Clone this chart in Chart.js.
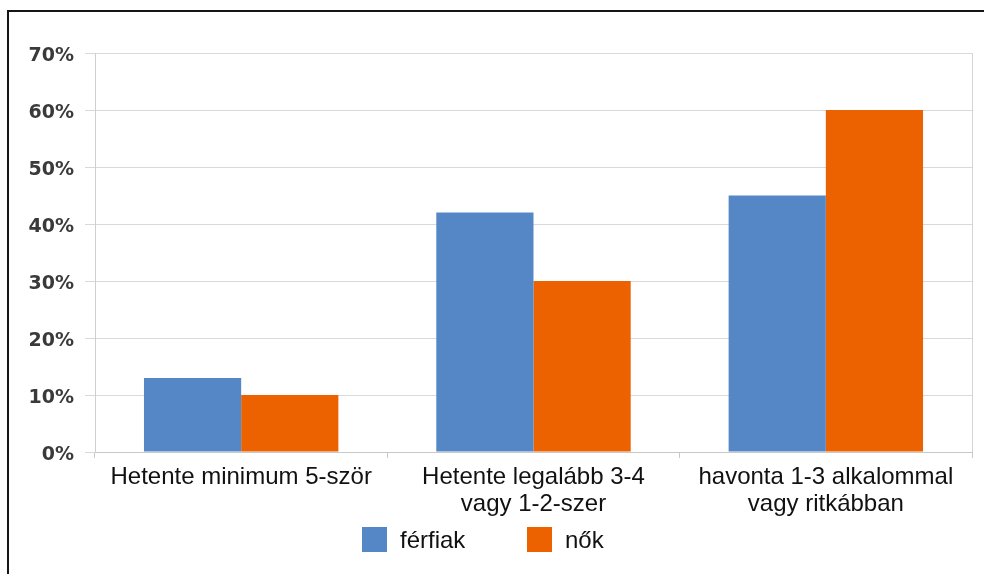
<!DOCTYPE html>
<html><head><meta charset="utf-8">
<script src="https://cdn.jsdelivr.net/npm/chart.js@4"></script>
<style>
html,body{margin:0;padding:0;background:#fff;overflow:hidden}
#wrap{position:relative;width:984px;height:574px}
#frame{position:absolute;left:7px;top:10px;right:0;bottom:0;border-left:2px solid #151515;border-top:2px solid #151515;pointer-events:none}
canvas{position:absolute;left:0;top:0}
.lg{position:absolute;top:527px;height:25px;display:flex;align-items:center;font-family:'Liberation Sans',Arial,sans-serif;font-size:24px;color:#111;white-space:nowrap}
.lg i{display:block;width:25px;height:25px;margin-right:13px}
</style></head><body>
<div id="wrap"><canvas id="c" width="984" height="574"></canvas><div id="frame"></div>
<div id="legend"></div></div>
<script>
const categories = [["Hetente minimum 5-ször"], ["Hetente legalább 3-4", "vagy 1-2-szer"], ["havonta 1-3 alkalommal", "vagy ritkábban"]];
const seriesNames = ["férfiak", "nők"];
const ferfiak = [13, 42, 45];
const nok = [10, 30, 60];
const yMin = 0, yMax = 70, yStep = 10;
const seriesColors = ['#5587c6', '#ec6100'];

const plotBorder = {
  id: 'plotBorder',
  beforeDatasetsDraw(chart) {
    const {ctx, chartArea: a} = chart;
    ctx.save();
    ctx.strokeStyle = '#d4d4d4';
    ctx.lineWidth = 1;
    ctx.beginPath();
    ctx.moveTo(Math.round(a.right) + 0.5, a.top);
    ctx.lineTo(Math.round(a.right) + 0.5, a.bottom);
    ctx.stroke();
    ctx.restore();
  }
};

const chart = new Chart(document.getElementById('c'), {
  type: 'bar',
  data: {
    labels: categories,
    datasets: [
      { label: seriesNames[0], data: ferfiak, backgroundColor: seriesColors[0], borderWidth: 0 },
      { label: seriesNames[1], data: nok, backgroundColor: seriesColors[1], borderWidth: 0 }
    ]
  },
  options: {
    responsive: false,
    animation: false,
    layout: { padding: { left: 0, right: 12, top: 53, bottom: 42 } },
    datasets: { bar: { categoryPercentage: 0.665, barPercentage: 1.0 } },
    plugins: {
      tooltip: { enabled: false },
      legend: { display: false }
    },
    scales: {
      x: {
        grid: { display: true, drawOnChartArea: false, tickLength: 6, color: '#c8c8c8', offset: true },
        border: { display: true, color: '#c8c8c8' },
        ticks: {
          color: '#111', padding: 6, maxRotation: 0, autoSkip: false,
          font: { family: "'Liberation Sans', Arial, sans-serif", size: 24, lineHeight: 1.12 }
        },
        afterFit(scale) { scale.height = 80; }
      },
      y: {
        min: yMin, max: yMax,
        grid: { color: '#d9d9d9', tickLength: 10, lineWidth: 1 },
        border: { display: true, color: '#cfcfcf' },
        ticks: {
          stepSize: yStep, padding: 11, color: '#3a3a3a', labelOffset: 3,
          font: { family: "'DejaVu Sans', sans-serif", size: 19, weight: 'bold' },
          callback: v => v + '%'
        },
        afterFit(scale) { scale.width = 95; }
      }
    }
  },
  plugins: [plotBorder]
});

// legend built from the chart's datasets
const legendLeft = [362, 527];
const legendEl = document.getElementById('legend');
chart.data.datasets.forEach((ds, i) => {
  const item = document.createElement('div');
  item.className = 'lg';
  item.style.left = legendLeft[i] + 'px';
  const sw = document.createElement('i');
  sw.style.background = ds.backgroundColor;
  item.appendChild(sw);
  item.appendChild(document.createTextNode(ds.label));
  legendEl.appendChild(item);
});
</script>
</body></html>
